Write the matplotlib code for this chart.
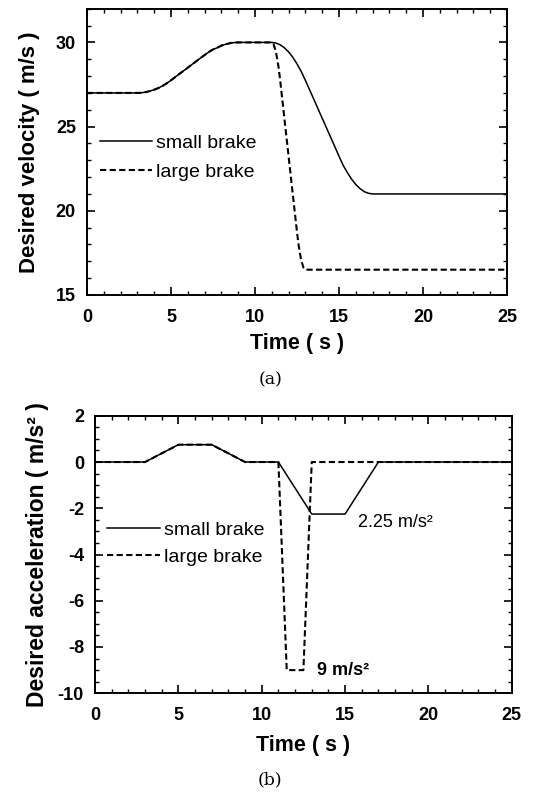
import numpy as np
import matplotlib
matplotlib.use('Agg')
import matplotlib.pyplot as plt
from matplotlib.ticker import MultipleLocator

plt.rcParams['font.family'] = ['Liberation Sans', 'DejaVu Sans']
plt.rcParams['axes.unicode_minus'] = False

t_vs = [0, 3, 3.25, 3.5, 3.75, 4, 4.25, 4.5, 4.75, 5, 5.5, 6, 6.5, 7, 7.25, 7.5,
        7.75, 8, 8.25, 8.5, 8.75, 9, 11, 11.25, 11.5, 11.75, 12, 12.25, 12.5,
        12.75, 13, 13.5, 14, 14.5, 15, 15.25, 15.5, 15.75, 16, 16.25, 16.5,
        16.75, 17, 25]
v_small = [27, 27, 27.01, 27.05, 27.11, 27.19, 27.29, 27.42, 27.57, 27.75,
           28.13, 28.5, 28.88, 29.25, 29.43, 29.58, 29.68, 29.81, 29.89, 29.95,
           29.99, 30, 30, 29.96, 29.86, 29.68, 29.44, 29.12, 28.73, 28.28,
           27.75, 26.63, 25.5, 24.38, 23.25, 22.70, 22.27, 21.88, 21.56, 21.32,
           21.14, 21.04, 21, 21]

# velocity, large brake
t_vl = [0, 3, 3.25, 3.5, 3.75, 4, 4.25, 4.5, 4.75, 5, 5.5, 6, 6.5, 7, 7.25, 7.5,
        7.75, 8, 8.25, 8.5, 8.75, 9, 11, 11.1, 11.25, 11.4, 11.5, 12, 12.5,
        12.6, 12.75, 12.9, 13, 25]
v_large = [27, 27, 27.01, 27.05, 27.11, 27.19, 27.29, 27.42, 27.57, 27.75,
           28.13, 28.5, 28.88, 29.25, 29.43, 29.58, 29.68, 29.81, 29.89, 29.95,
           29.99, 30, 30, 29.91, 29.44, 28.56, 27.75, 23.25, 18.75, 17.94,
           17.06, 16.59, 16.5, 16.5]

# acceleration (plot b)
t_as = [0, 3, 5, 7, 9, 11, 13, 15, 17, 25]
a_small = [0, 0, 0.75, 0.75, 0, 0, -2.25, -2.25, 0, 0]
t_al = [0, 3, 5, 7, 9, 11, 11.5, 12.5, 13, 25]
a_large = [0, 0, 0.75, 0.75, 0, 0, -9, -9, 0, 0]

fig = plt.figure(figsize=(5.37, 7.95), dpi=100)
ax1 = fig.add_axes([0.162, 0.629, 0.782, 0.36])
ax2 = fig.add_axes([0.177, 0.128, 0.776, 0.349])

lab_font = dict(fontsize=15.5, fontweight='bold')
leg_font = {'size': 14}


def style(ax):
    ax.tick_params(which='both', direction='in', top=True, right=True)
    ax.tick_params(which='major', length=6, width=1.2, pad=8, labelsize=13)
    ax.tick_params(axis='x', which='major', pad=10)
    ax.tick_params(which='minor', length=3, width=1)
    for lbl in ax.get_xticklabels() + ax.get_yticklabels():
        lbl.set_fontweight('bold')
    for s in ax.spines.values():
        s.set_linewidth(1.4)


# (a) velocity
ax1.plot(t_vs, v_small, color='black', lw=1.1, label='small brake')
ax1.plot(t_vl, v_large, color='black', lw=1.5, ls=(0, (3, 1.6)), label='large brake')
ax1.set_xlim(0, 25)
ax1.set_ylim(15, 32)
ax1.xaxis.set_major_locator(MultipleLocator(5))
ax1.xaxis.set_minor_locator(MultipleLocator(1))
ax1.yaxis.set_major_locator(MultipleLocator(5))
ax1.yaxis.set_minor_locator(MultipleLocator(1))
style(ax1)
ax1.set_xlabel('Time ( s )', labelpad=5, **lab_font)
ax1.set_ylabel('Desired velocity ( m/s )', labelpad=11, fontsize=16, fontweight='bold')
ax1.legend(loc='center left', bbox_to_anchor=(0.03, 0.48), frameon=False,
           prop=leg_font, handlelength=2.7, handletextpad=0.2,
           borderpad=0, borderaxespad=0, labelspacing=0.62)

# (b) acceleration
ax2.plot(t_as, a_small, color='black', lw=1.1, label='small brake')
ax2.plot(t_al, a_large, color='black', lw=1.5, ls=(0, (3, 1.6)), label='large brake')
ax2.set_xlim(0, 25)
ax2.set_ylim(-10, 2)
ax2.xaxis.set_major_locator(MultipleLocator(5))
ax2.xaxis.set_minor_locator(MultipleLocator(1))
ax2.yaxis.set_major_locator(MultipleLocator(2))
ax2.yaxis.set_minor_locator(MultipleLocator(0.5))
style(ax2)
ax2.set_xlabel('Time ( s )', labelpad=8, **lab_font)
ax2.set_ylabel('Desired acceleration ( m/s\u00b2 )', labelpad=6, fontsize=16.5, fontweight='bold')
ax2.legend(loc='center left', bbox_to_anchor=(0.029, 0.54), frameon=False,
           prop=leg_font, handlelength=2.7, handletextpad=0.2,
           borderpad=0, borderaxespad=0, labelspacing=0.48)
ax2.text(15.8, -2.6, '2.25 m/s\u00b2', fontsize=13, va='center', ha='left')
ax2.text(13.3, -9.0, '9 m/s\u00b2', fontsize=13, fontweight='bold', va='center', ha='left')

fig.text(0.503, 1 - 380 / 795, '(a)', family='DejaVu Serif', fontsize=12.5, ha='center', va='center')
fig.text(0.503, 1 - 780 / 795, '(b)', family='DejaVu Serif', fontsize=12.5, ha='center', va='center')

fig.savefig('out.png', dpi=100)
